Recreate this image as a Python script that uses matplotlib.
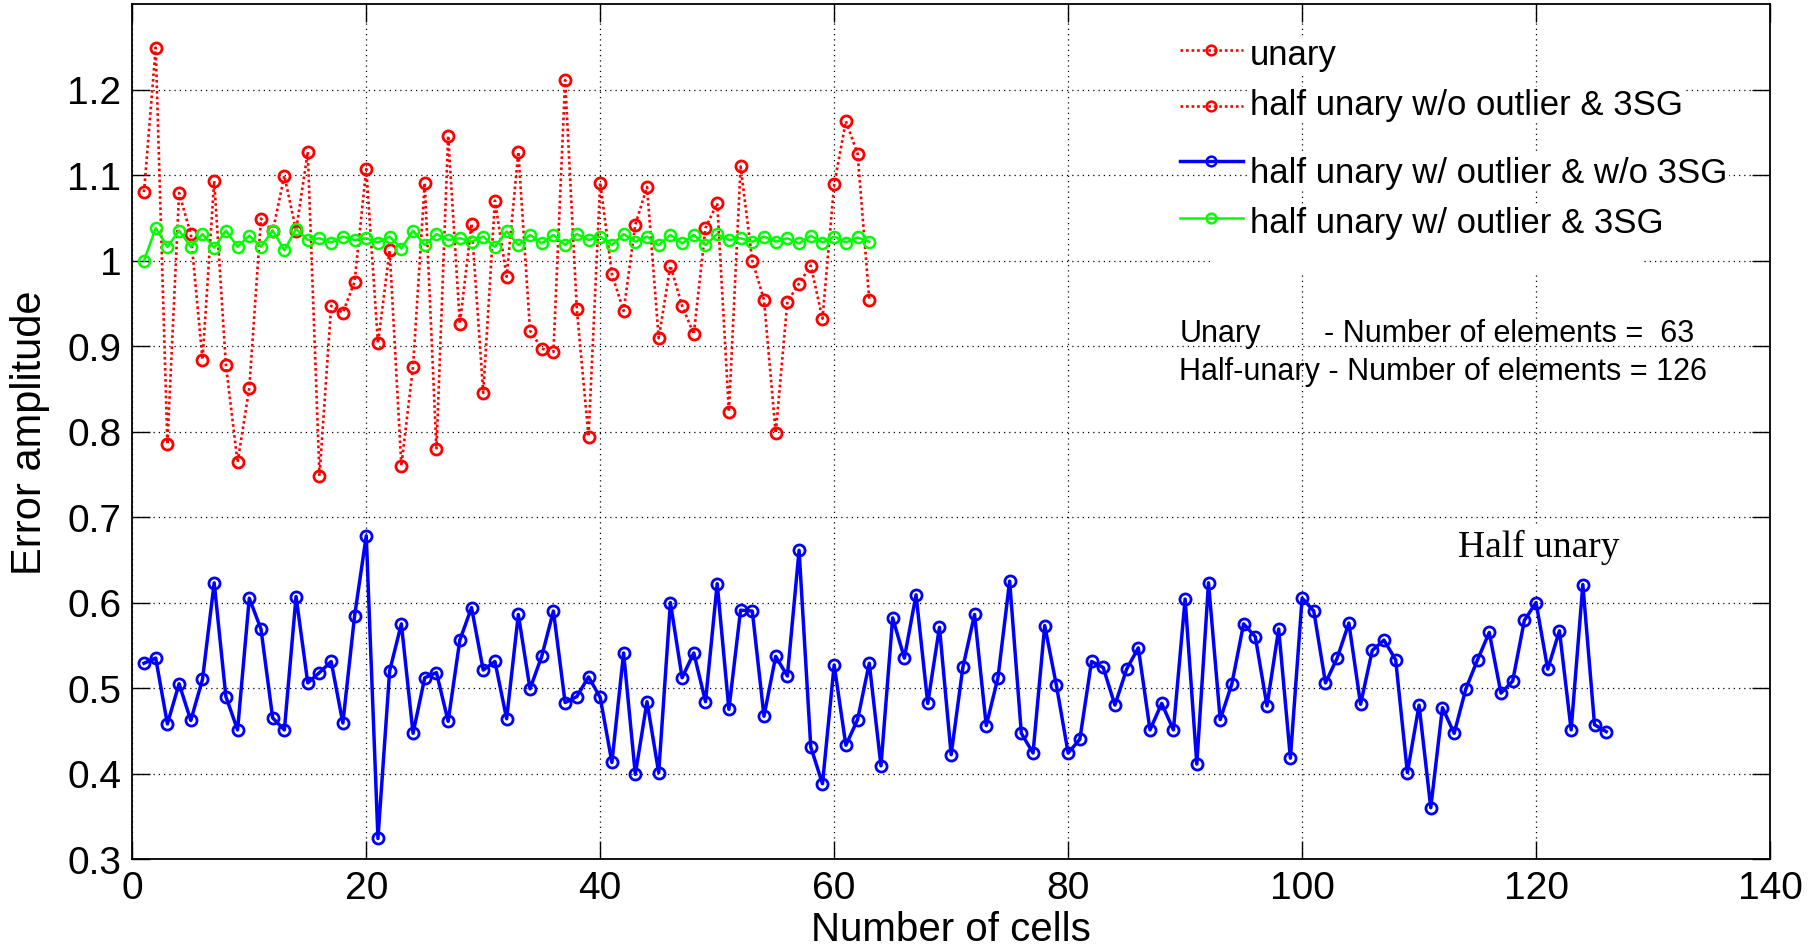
import matplotlib
matplotlib.use("Agg")
import matplotlib.pyplot as plt
from matplotlib import font_manager
from matplotlib.patches import Rectangle
import numpy as np

# ---- data -------------------------------------------------------------
unary_err = [
    1.080, 1.249, 0.785, 1.079, 1.031, 0.884, 1.093, 0.878, 0.764, 0.851,
    1.049, 1.034, 1.099, 1.035, 1.127, 0.748, 0.947, 0.939, 0.975, 1.107,
    0.903, 1.012, 0.760, 0.876, 1.091, 0.779, 1.146, 0.926, 1.043, 0.845,
    1.070, 0.981, 1.127, 0.918, 0.897, 0.893, 1.211, 0.943, 0.794, 1.091,
    0.984, 0.941, 1.042, 1.086, 0.909, 0.994, 0.947, 0.914, 1.038, 1.067,
    0.823, 1.110, 1.000, 0.954, 0.798, 0.952, 0.973, 0.994, 0.932, 1.089,
    1.163, 1.125, 0.954,
]

half_outlier_3sg = [
    1.000, 1.038, 1.016, 1.035, 1.016, 1.031, 1.015, 1.035, 1.016, 1.029,
    1.016, 1.035, 1.012, 1.037, 1.024, 1.026, 1.021, 1.028, 1.024, 1.026,
    1.021, 1.028, 1.014, 1.035, 1.018, 1.031, 1.024, 1.026, 1.022, 1.028,
    1.016, 1.034, 1.018, 1.030, 1.020, 1.030, 1.018, 1.031, 1.024, 1.028,
    1.018, 1.031, 1.022, 1.028, 1.018, 1.030, 1.020, 1.030, 1.018, 1.031,
    1.024, 1.026, 1.022, 1.028, 1.022, 1.026, 1.020, 1.029, 1.021, 1.028,
    1.021, 1.027, 1.022,
]

half_outlier_no3sg = [
    0.529, 0.535, 0.458, 0.505, 0.462, 0.510, 0.623, 0.490, 0.451, 0.605,
    0.569, 0.465, 0.451, 0.607, 0.506, 0.518, 0.531, 0.459, 0.584, 0.678,
    0.324, 0.520, 0.575, 0.447, 0.512, 0.518, 0.461, 0.556, 0.594, 0.521,
    0.531, 0.464, 0.586, 0.499, 0.537, 0.590, 0.483, 0.490, 0.513, 0.489,
    0.413, 0.541, 0.399, 0.484, 0.401, 0.600, 0.512, 0.541, 0.484, 0.622,
    0.475, 0.591, 0.590, 0.467, 0.537, 0.514, 0.661, 0.431, 0.388, 0.527,
    0.433, 0.463, 0.529, 0.409, 0.582, 0.535, 0.609, 0.482, 0.571, 0.422,
    0.524, 0.586, 0.456, 0.512, 0.625, 0.447, 0.424, 0.573, 0.503, 0.424,
    0.440, 0.531, 0.524, 0.480, 0.522, 0.547, 0.451, 0.482, 0.451, 0.604,
    0.411, 0.623, 0.463, 0.505, 0.575, 0.560, 0.479, 0.569, 0.418, 0.605,
    0.590, 0.506, 0.535, 0.576, 0.481, 0.544, 0.556, 0.533, 0.401, 0.480,
    0.360, 0.477, 0.447, 0.499, 0.533, 0.565, 0.494, 0.508, 0.579, 0.600,
    0.522, 0.567, 0.451, 0.621, 0.457, 0.449,
]

x_ticks = [0, 20, 40, 60, 80, 100, 120, 140]
y_ticks = [0.3, 0.4, 0.5, 0.6, 0.7, 0.8, 0.9, 1.0, 1.1, 1.2]
y_tick_labels = ["0.3", "0.4", "0.5", "0.6", "0.7", "0.8", "0.9", "1", "1.1", "1.2"]

legend_labels = [
    "unary",
    "half unary w/o outlier & 3SG",
    "half unary w/ outlier & w/o 3SG",
    "half unary w/ outlier & 3SG",
]
count_lines = [("Unary", "- Number of elements =  63"),
               ("Half-unary - Number of elements = 126", None)]

# ---- styling ------------------------------------------------------------
RED, GREEN, BLUE = (1, 0, 0), (0, 1, 0), (0, 0, 1)
plt.rcParams["font.family"] = ["Liberation Sans", "DejaVu Sans"]
available = {f.name for f in font_manager.fontManager.ttflist}
if "Liberation Sans Narrow" in available:
    leg_family, leg_size = ["Liberation Sans Narrow", "Liberation Sans"], 30
else:
    leg_family, leg_size = ["Liberation Sans", "DejaVu Sans"], 25

W, H = 1817, 953
fig = plt.figure(figsize=(W / 100, H / 100), dpi=100)
L, R, T, B = 132.3, 1770.0, 5.0, 860.0
ax = fig.add_axes([L / W, 1 - B / H, (R - L) / W, (B - T) / H])

x_unary = np.arange(1, len(unary_err) + 1)
x_half = np.arange(1, len(half_outlier_no3sg) + 1)
x_3sg = np.arange(1, len(half_outlier_3sg) + 1)

red_style = dict(color=RED, ls=(0, (1, 1.1)), lw=1.9, marker="o", ms=8,
                 mfc="none", mec=RED, mew=2.0)
blue_style = dict(color=BLUE, ls="-", lw=2.5, marker="o", ms=8,
                  mfc="none", mec=BLUE, mew=2.0)
green_style = dict(color=GREEN, ls="-", lw=1.8, marker="o", ms=8,
                   mfc="none", mec=GREEN, mew=1.8)

ax.plot(x_unary, unary_err, zorder=3, **red_style)
ax.plot(x_half, half_outlier_no3sg, zorder=3, **blue_style)
ax.plot(x_3sg, half_outlier_3sg, zorder=4, **green_style)

ax.set_xlim(0, 140)
ax.set_ylim(0.3, 1.3)
ax.set_xticks(x_ticks)
ax.set_yticks(y_ticks)
ax.set_yticklabels(y_tick_labels)
ax.grid(True, color="k", ls=(0, (1, 3.2)), lw=0.9)
ax.set_axisbelow(True)
ax.tick_params(direction="in", length=13, width=1.0, top=True, right=True,
               labelsize=28, pad=8, colors="k")
for s in ax.spines.values():
    s.set_linewidth(1.3)
    s.set_color("k")

ax.set_xlabel("Number of cells", fontsize=29)
ax.set_ylabel("Error amplitude", fontsize=30)
ax.xaxis.set_label_coords(0.5, -0.06)
ax.yaxis.set_label_coords(-0.05, 0.5)


def ax_xy(px, py):
    return (px - L) / (R - L), (B - py) / (B - T)


# ---- hand-placed legend ------------------------------------------------
leg_styles = [red_style, red_style, blue_style, green_style]
marker_y = [50.7, 107.0, 161.7, 219.0]
text_base = [65.0, 115.0, 182.7, 233.3]
for lab, st, my, ty in zip(legend_labels, leg_styles, marker_y, text_base):
    x0, y0 = ax_xy(1180, my)
    x1, _ = ax_xy(1243, my)
    xm, _ = ax_xy(1211, my)
    line_st = {k: v for k, v in st.items() if k not in ("marker", "ms", "mfc", "mec", "mew")}
    ax.plot([x0, x1], [y0, y0], transform=ax.transAxes, zorder=6,
            clip_on=False, **line_st)
    ax.plot([xm], [y0], transform=ax.transAxes, zorder=7, ls="none",
            marker="o", ms=7, mfc="none", mec=st["mec"], mew=1.8)
    tx, tyy = ax_xy(1250, ty)
    ax.text(tx, tyy, lab, transform=ax.transAxes, ha="left", va="baseline",
            family=leg_family, fontsize=leg_size, zorder=6,
            bbox=dict(facecolor="white", edgecolor="none", pad=1))

# white patch left behind the pasted legend block
rx, ry = ax_xy(1211, 275)
rx2, ry2 = ax_xy(1642, 245)
ax.add_patch(Rectangle((rx, ry), rx2 - rx, ry2 - ry, transform=ax.transAxes,
                       facecolor="white", edgecolor="none", zorder=2))

# ---- element-count notes ---------------------------------------------------
tx, ty = ax_xy(1180, 341.7)
ax.text(tx, ty, count_lines[0][0], transform=ax.transAxes, ha="left",
        va="baseline", fontsize=22, zorder=6)
tx, ty = ax_xy(1323.5, 341.7)
ax.text(tx, ty, count_lines[0][1], transform=ax.transAxes, ha="left",
        va="baseline", fontsize=22, zorder=6)
tx, ty = ax_xy(1178.6, 380.0)
ax.text(tx, ty, count_lines[1][0], transform=ax.transAxes, ha="left",
        va="baseline", fontsize=22, zorder=6)

tx, ty = ax_xy(1458, 556.7)
ax.text(tx, ty, "Half unary", transform=ax.transAxes, ha="left",
        va="baseline", family=["Liberation Serif", "DejaVu Serif"],
        fontsize=27, zorder=6,
        bbox=dict(facecolor="white", edgecolor="none", pad=1))

fig.savefig("out.png", dpi=100, facecolor="white")
